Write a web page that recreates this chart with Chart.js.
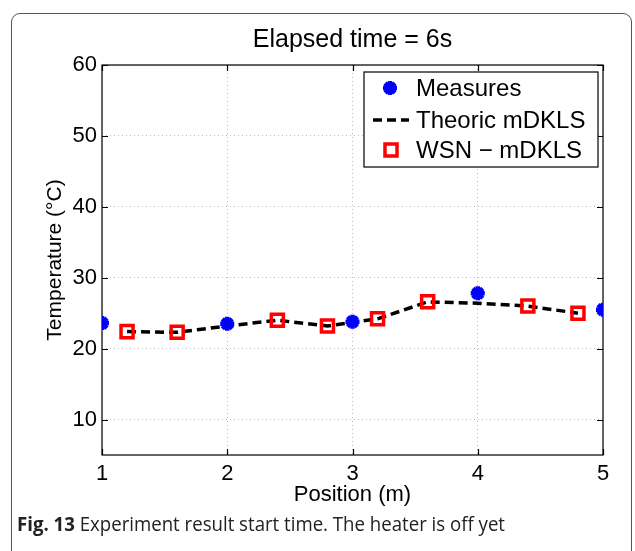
<!DOCTYPE html>
<html>
<head>
<meta charset="utf-8">
<script src="https://cdn.jsdelivr.net/npm/chart.js@4/dist/chart.umd.min.js"></script>
<style>
  html, body { margin: 0; padding: 0; background: #fff; }
  body { width: 635px; height: 551px; position: relative; overflow: hidden; }
  #frame { position: absolute; left: 11px; top: 13px; width: 621px; height: 600px;
           border: 1.5px solid #555; border-radius: 9px 9px 0 0; box-sizing: border-box; }
  #wrap { position: absolute; left: 0; top: 0; width: 635px; height: 551px; }
  #cap { position: absolute; left: 17px; top: 510px; font-family: "Open Sans", "Noto Sans", sans-serif;
         font-size: 20px; color: #222; white-space: nowrap; transform-origin: 0 0; }
  #cap b { font-weight: 700; }
</style>
</head>
<body>
<div id="frame"></div>
<div id="wrap"><canvas id="c" width="635" height="551"></canvas></div>
<div id="cap"><b>Fig. 13</b> Experiment result start time. The heater is off yet</div>
<script>
// ---- data ----
const titleText = "Elapsed time = 6s";
const xTitle = "Position (m)";
const yTitle = "Temperature (°C)";
const xTicks = [1, 2, 3, 4, 5];
const yTicks = [10, 20, 30, 40, 50, 60];

const measuresX = [1, 2, 3, 4, 5];
const measuresY = [23.6, 23.5, 23.8, 27.8, 25.5];

const theoricX = [1.2, 1.6, 2.0, 2.4, 2.8, 3.2, 3.6, 4.0, 4.4, 4.8];
const theoricY = [22.4, 22.3, 23.2, 24.0, 23.2, 24.2, 26.6, 26.4, 26.0, 25.0];

const wsnX = [1.2, 1.6, 2.4, 2.8, 3.2, 3.6, 4.4, 4.8];
const wsnY = [22.4, 22.3, 24.0, 23.2, 24.2, 26.6, 26.0, 25.0];

const seriesLabels = ["Measures", "Theoric mDKLS", "WSN \u2212 mDKLS"];

const toPts = (xs, ys) => xs.map((x, i) => ({ x: x, y: ys[i] }));

const FONT = '"Liberation Sans", Arial, Helvetica, sans-serif';
Chart.defaults.font.family = FONT;
Chart.defaults.color = '#000';

const boxTicks = {
  id: 'boxTicks',
  beforeDatasetsDraw(chart) {
    const { ctx, chartArea: a, scales } = chart;
    ctx.save();
    ctx.strokeStyle = '#000';
    ctx.lineWidth = 1.2;
    ctx.strokeRect(a.left, a.top, a.right - a.left, a.bottom - a.top);
    const L = 6;
    ctx.beginPath();
    scales.x.ticks.forEach(t => {
      const px = Math.round(scales.x.getPixelForValue(t.value)) + 0.5;
      ctx.moveTo(px, a.bottom); ctx.lineTo(px, a.bottom - L);
      ctx.moveTo(px, a.top); ctx.lineTo(px, a.top + L);
    });
    scales.y.ticks.forEach(t => {
      const py = Math.round(scales.y.getPixelForValue(t.value)) + 0.5;
      ctx.moveTo(a.left, py); ctx.lineTo(a.left + L, py);
      ctx.moveTo(a.right, py); ctx.lineTo(a.right - L, py);
    });
    ctx.stroke();
    ctx.restore();
  }
};

const insideLegend = {
  id: 'insideLegend',
  afterDatasetsDraw(chart) {
    const { ctx } = chart;
    const bx = 364, by = 72, bw = 234, bh = 95;
    ctx.save();
    ctx.fillStyle = '#fff';
    ctx.fillRect(bx, by, bw, bh);
    ctx.strokeStyle = '#000';
    ctx.lineWidth = 1.2;
    ctx.strokeRect(bx, by, bw, bh);
    const rows = [88, 120, 150];
    const textX = 416;
    // Measures marker
    const d0 = chart.data.datasets[0];
    ctx.strokeStyle = d0.borderColor; ctx.fillStyle = d0.backgroundColor; ctx.lineWidth = d0.borderWidth;
    Chart.helpers.drawPoint(ctx, { pointStyle: d0.pointStyle, radius: d0.pointRadius, borderWidth: d0.borderWidth }, 390, rows[0]);
    // Theoric dashed line
    const d1 = chart.data.datasets[1];
    ctx.strokeStyle = d1.borderColor; ctx.lineWidth = d1.borderWidth;
    ctx.setLineDash(d1.borderDash);
    ctx.beginPath(); ctx.moveTo(373, rows[1]); ctx.lineTo(409, rows[1]); ctx.stroke();
    ctx.setLineDash([]);
    // WSN square
    const d2 = chart.data.datasets[2];
    ctx.strokeStyle = d2.borderColor; ctx.fillStyle = d2.backgroundColor; ctx.lineWidth = d2.borderWidth;
    Chart.helpers.drawPoint(ctx, { pointStyle: d2.pointStyle, radius: d2.pointRadius, borderWidth: d2.borderWidth }, 391, rows[2]);
    // texts
    ctx.font = '24px ' + FONT;
    ctx.textBaseline = 'middle';
    ctx.textAlign = 'left';
    ctx.fillStyle = '#000';
    ctx.fillText(seriesLabels[0], textX, rows[0] + 1);
    ctx.fillText(seriesLabels[1], textX, rows[1] + 1);
    ctx.fillText(seriesLabels[2], textX, rows[2] + 1);
    ctx.restore();
  }
};

new Chart(document.getElementById('c'), {
  type: 'scatter',
  data: {
    datasets: [
      {
        label: seriesLabels[0],
        data: toPts(measuresX, measuresY),
        pointStyle: 'star', pointRadius: 7, borderWidth: 4.5,
        borderColor: '#0000ff', backgroundColor: '#0000ff',
        pointHoverRadius: 7, order: 0
      },
      {
        label: seriesLabels[1],
        data: toPts(theoricX, theoricY),
        showLine: true, pointRadius: 0, pointHoverRadius: 0,
        borderColor: '#000', backgroundColor: '#000', borderWidth: 3.5,
        borderDash: [9, 5], order: 2
      },
      {
        label: seriesLabels[2],
        data: toPts(wsnX, wsnY),
        pointStyle: 'rect', pointRadius: 8.5, borderWidth: 3.5,
        borderColor: '#ff0000', backgroundColor: 'rgba(0,0,0,0)',
        pointHoverRadius: 8.5, order: 1
      }
    ]
  },
  options: {
    responsive: false,
    animation: false,
    events: [],
    layout: { padding: { top: 0, right: 32, left: 0, bottom: 0 } },
    plugins: {
      legend: { display: false },
      tooltip: { enabled: false },
      title: {
        display: true, text: titleText, fullSize: false,
        color: '#000', font: { size: 25, weight: 'normal', lineHeight: 1.2 },
        padding: { top: 25, bottom: 10 }
      }
    },
    scales: {
      x: {
        type: 'linear', min: 1, max: 5,
        afterBuildTicks: s => { s.ticks = xTicks.map(v => ({ value: v })); },
        afterFit: s => { s.height = 96; },
        ticks: { font: { size: 22 }, color: '#000', padding: 6, maxRotation: 0 },
        grid: { color: '#bdbdbd', lineWidth: 1, drawTicks: false },
        border: { display: false, dash: [1, 3] },
        title: { display: true, text: xTitle, color: '#000', font: { size: 22, lineHeight: 1.2 },
                 padding: { top: 0, bottom: 43 } }
      },
      y: {
        type: 'linear', min: 5, max: 60,
        afterBuildTicks: s => { s.ticks = yTicks.map(v => ({ value: v })); },
        afterFit: s => { s.width = 102; },
        ticks: { font: { size: 22 }, color: '#000', padding: 5 },
        grid: { color: '#bdbdbd', lineWidth: 1, drawTicks: false },
        border: { display: false, dash: [1, 3] },
        title: { display: true, text: yTitle, color: '#000', font: { size: 21, lineHeight: 1.2 },
                 padding: { top: 43, bottom: 0 } }
      }
    }
  },
  plugins: [boxTicks, insideLegend]
});

// fit caption to the reference width
const cap = document.getElementById('cap');
const w = cap.getBoundingClientRect().width;
cap.style.transform = 'scaleX(' + (488 / w) + ')';
</script>
</body>
</html>
